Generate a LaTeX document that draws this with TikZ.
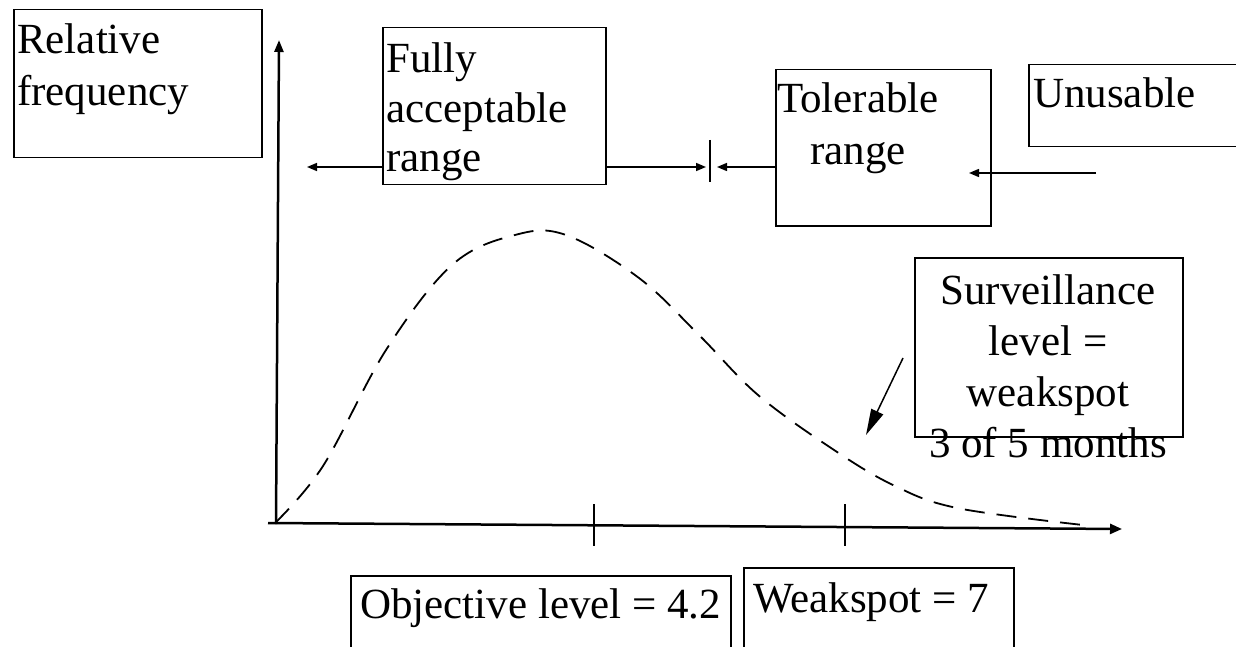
\documentclass[tikz,border=0pt]{standalone}
\usepackage{fontspec}
\setmainfont{Liberation Serif}
\usetikzlibrary{arrows.meta}

\begin{document}
\begin{tikzpicture}[x=1pt,y=-1pt,
  box/.style={draw,line width=1.5pt,anchor=north west,inner sep=0pt},
  txt/.style={inner sep=0pt,anchor=base west,align=left,font=\fontsize{43}{51}\selectfont},
  arr/.style={-{Triangle[length=10pt,width=8pt]},line width=1.5pt}]
\useasboundingbox (0,0) rectangle (1236,647);

\node[box,minimum width=248pt,minimum height=148pt] (b1) at (13,9) {};
\node[box,minimum width=223pt,minimum height=157pt] (b2) at (382,27) {};
\node[box,minimum width=215pt,minimum height=156pt] (b3) at (775,69) {};
\node[box,minimum width=217pt,minimum height=82pt] (b4) at (1028,64) {};
\node[box,minimum width=268pt,minimum height=179pt] (b5) at (914,257) {};
\node[box,minimum width=380pt,minimum height=90pt] (b6) at (350,575) {};
\node[box,minimum width=270pt,minimum height=100pt] (b7) at (743,567) {};

\node[txt,font=\fontsize{43}{52}\selectfont] (t1) at (17,106) {Relative\\frequency};
\node[txt,font=\fontsize{43}{50}\selectfont] (t2) at (386,172) {Fully\\acceptable\\range};
\node[txt,anchor=base,align=center,font=\fontsize{43}{52}\selectfont] (t3) at (858,165) {Tolerable\\range};
\node[txt] (t4) at (1033,108) {Unusable};
\node[txt,anchor=base,align=center] (t5) at (1048,457) {Surveillance\\level =\\weakspot\\3 of 5 months};
\node[txt] (t6) at (360,618) {Objective level = 4.2};
\node[txt] (t7) at (753,612) {Weakspot = 7};

\coordinate (o) at (276,524);
\coordinate (yt) at (279,40);
\coordinate (xs) at (268,523);
\coordinate (xe) at (1122,529);
\coordinate (p1) at (307,167);
\coordinate (p2) at (706,167);
\coordinate (p3) at (717,167);
\coordinate (p4) at (969,173);
\coordinate (p5) at (1096,173);
\coordinate (m1) at (710,140);
\coordinate (m2) at (710,182);
\coordinate (s1) at (903,358);
\coordinate (s2) at (866,435);

\draw[-{Triangle[length=12pt,width=9pt]},line width=2.5pt] (o)--(yt);
\draw[-{Triangle[length=12pt,width=10pt]},line width=2.5pt] (xs)--(xe);
\draw[line width=1.2pt] (594,504)--(594,546);
\draw[line width=1.2pt] (845,504)--(845,546);

\draw[arr] (b2.west |- p1)--(p1);
\draw[arr] (b2.east |- p2)--(p2);
\draw[line width=1.2pt] (m1)--(m2);
\draw[arr] (b3.west |- p3)--(p3);
\draw[arr] (p5)--(p4);
\draw[-{Triangle[length=26pt,width=13pt]},line width=1.5pt] (s1)--(s2);

\draw[line width=1.8pt,dash pattern=on 20pt off 12pt] plot[smooth,tension=0.6] coordinates {(275,523) (323,466) (386,350) (452,265) (515,235) (566,235) (639,278) (699,335) (758,395) (831,448) (893,485) (957,508) (1083,525)};
\end{tikzpicture}
\end{document}
